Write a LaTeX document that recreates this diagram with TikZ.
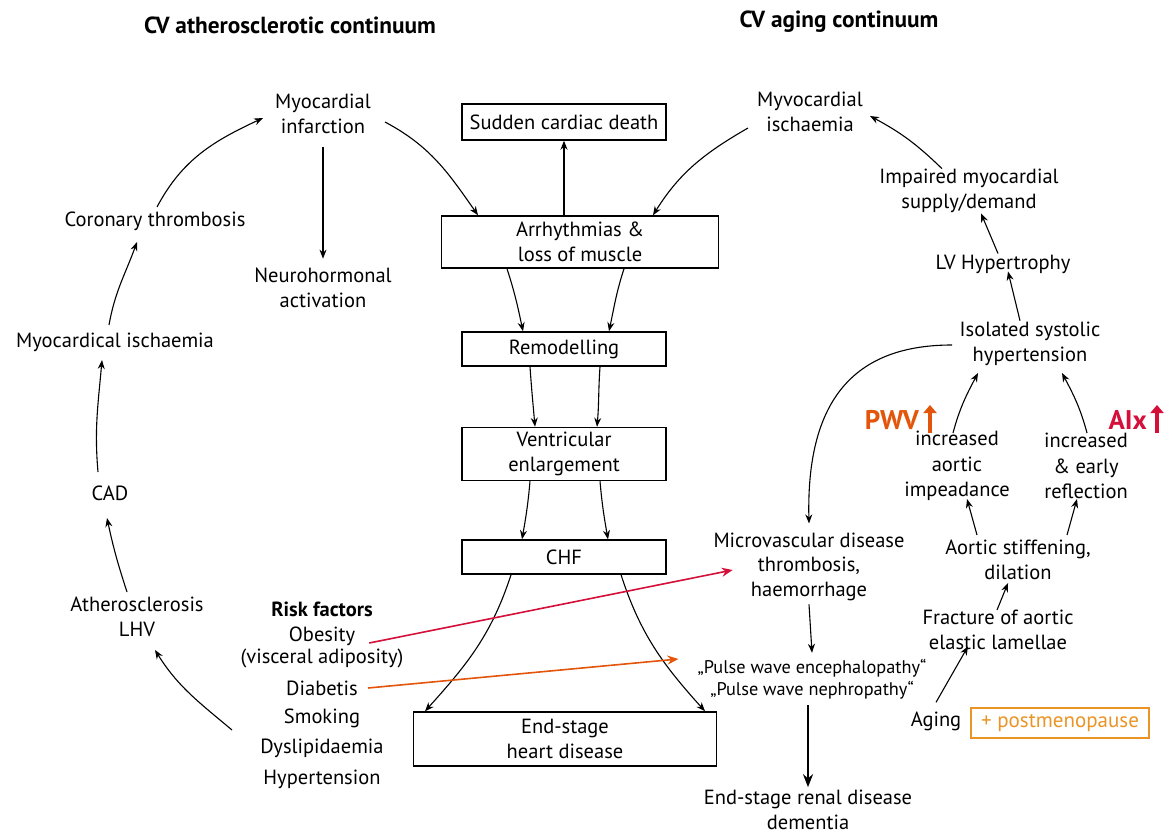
\documentclass[tikz,border=0pt]{standalone}
\usepackage{fontspec}
\setmainfont{PT Sans}
\usetikzlibrary{arrows.meta}
\definecolor{cred}{RGB}{212,16,58}
\definecolor{corange}{RGB}{226,85,10}
\definecolor{cpm}{RGB}{234,148,38}
\begin{document}
\begin{tikzpicture}[x=1pt,y=-1pt,
  txt/.style={align=center,inner sep=1pt,font=\fontsize{20.5}{25.5}\selectfont},
  boxn/.style={draw,line width=1.5pt,align=center,inner sep=0pt,font=\fontsize{20.5}{25}\selectfont},
  ttl/.style={font=\bfseries\fontsize{23.3}{25}\selectfont},
  arr/.style={-{Stealth[length=9pt,width=7pt]},line width=1.1pt},
  carr/.style={-{Stealth[length=11pt,width=9pt]},line width=1.6pt},
  bigup/.style={-{Triangle[length=8pt,width=13pt]},line width=4.5pt}]
\useasboundingbox (0,0) rectangle (1169,834);
% titles
\node[ttl] (t1) at (290,25) {CV atherosclerotic continuum};
\node[ttl] (t2) at (839,22) {CV aging continuum};
% left column
\node[txt] (mi) at (323,114) {Myocardial\\infarction};
\node[txt] (ct) at (155,221) {Coronary thrombosis};
\node[txt] (nh) at (323,288) {Neurohormonal\\activation};
\node[txt] (mis) at (115,342) {Myocardical ischaemia};
\node[txt] (cad) at (110,493) {CAD};
\node[txt] (ath) at (137,617) {Atherosclerosis\\LHV};
\node[txt,font=\bfseries\fontsize{20.5}{25.5}\selectfont] (rf) at (322,609) {Risk factors};
\node[txt] (ob1) at (322,636) {Obesity};
\node[txt] (ob2) at (322,658) {(visceral adiposity)};
\node[txt] (di) at (322,688) {Diabetis};
\node[txt] (sm) at (322,718) {Smoking};
\node[txt] (dy) at (322,748) {Dyslipidaemia};
\node[txt] (hy) at (322,779) {Hypertension};
% center boxes
\node[boxn,minimum width=204pt,minimum height=36pt] (scd) at (564,122) {Sudden cardiac death};
\node[boxn,minimum width=277pt,minimum height=52pt] (arr) at (580,242) {Arrhythmias \&\\loss of muscle};
\node[boxn,minimum width=204pt,minimum height=34pt] (rem) at (564,349) {Remodelling};
\node[boxn,minimum width=204pt,minimum height=53pt] (ve) at (564,454) {Ventricular\\enlargement};
\node[boxn,minimum width=204pt,minimum height=34pt] (chf) at (564,557) {CHF};
\node[boxn,minimum width=303pt,minimum height=54pt] (eshd) at (565,739) {End-stage\\heart disease};
% right
\node[txt] (myi) at (810,112) {Myvocardial\\ischaemia};
\node[txt] (imp) at (969,191) {Impaired myocardial\\supply/demand};
\node[txt] (lvh) at (1003,264) {LV Hypertrophy};
\node[txt] (ish) at (1030,344) {Isolated systolic\\hypertension};
\node[txt] (iai) at (957,466) {increased\\aortic\\impeadance};
\node[txt] (ier) at (1086,466) {increased\\\& early\\reflection};
\node[txt] (as) at (1018,560) {Aortic stiffening,\\dilation};
\node[txt] (fr) at (998,630) {Fracture of aortic\\elastic lamellae};
\node[txt] (mv1) at (809,540) {Microvascular disease};
\node[txt] (mv2) at (809,579) {thrombosis,\\haemorrhage};
\node[txt,font=\fontsize{18.3}{22}\selectfont] (pw) at (812,679) {„Pulse wave encephalopathy“\\„Pulse wave nephropathy“};
\node[txt] (ag) at (936,721) {Aging};
\node[draw=cpm,line width=1.3pt,text=cpm,font=\fontsize{21}{24}\selectfont,minimum width=178pt,minimum height=30pt,inner sep=0pt] (pm) at (1060,723) {+ postmenopause};
\node[txt,font=\fontsize{20.5}{24.5}\selectfont] (esrd) at (808,810) {End-stage renal disease\\dementia};
% PWV / AIx
\node[font=\bfseries\fontsize{27}{28}\selectfont,text=corange,anchor=east,inner sep=0pt] (pwv) at (919,420) {PWV};
\coordinate (pwa1) at (930,433);
\coordinate (pwa2) at (930,405);
\draw[bigup,corange] (pwa1) -- (pwa2);
\node[font=\bfseries\fontsize{27}{28}\selectfont,text=cred,anchor=east,inner sep=0pt] (aix) at (1147,420) {AIx};
\coordinate (aia1) at (1157,433);
\coordinate (aia2) at (1157,405);
\draw[bigup,cred] (aia1) -- (aia2);
% ---------- connectors: left cycle
\draw[arr] ([shift={(62,8)}]mi.center) to[out=-28,in=125] ([xshift=-102pt]arr.north);
\draw[arr] ([shift={(-62,16)}]myi.center) to[out=210,in=58] ([xshift=73pt]arr.north);
\draw[arr] (arr.north -| scd.south) -- (scd.south);
\draw[arr] ([yshift=-12pt]mi.south) -- ([yshift=8pt]nh.north);
\draw[arr] ([shift={(2,-14)}]ct.center) to[out=62,in=-155] ([shift={(-60,4)}]mi.center);
\draw[arr] ([shift={(-6,-17)}]mis.center) to[out=80,in=-110] ([shift={(-18,21)}]ct.center);
\draw[arr] ([shift={(-12,-21)}]cad.center) to[out=95,in=-95] ([shift={(-13,18)}]mis.center);
\draw[arr] ([shift={(-10,-25)}]ath.center) to[out=108,in=-78] ([shift={(-3,25)}]cad.center);
\draw[arr] ([shift={(-90,-18)}]dy.center) to[out=140,in=-58] ([shift={(18,33)}]ath.center);
% ---------- center column
\draw[arr] ([xshift=-73pt]arr.south) to[out=-72,in=102] ([xshift=-41pt]rem.north);
\draw[arr] ([xshift=44pt]arr.south) to[out=-108,in=78] ([xshift=45pt]rem.north);
\draw[arr] ([xshift=-34pt]rem.south) to[out=-86,in=95] ([xshift=-29pt]ve.north);
\draw[arr] ([xshift=36pt]rem.south) to[out=-94,in=85] ([xshift=33pt]ve.north);
\draw[arr] ([xshift=-34pt]ve.south) to[out=-95,in=80] ([xshift=-42pt]chf.north);
\draw[arr] ([xshift=36pt]ve.south) to[out=-85,in=100] ([xshift=44pt]chf.north);
\draw[arr] ([xshift=-53pt]chf.south) to[out=-108,in=48] ([xshift=-140pt]eshd.north);
\draw[arr] ([xshift=57pt]chf.south) to[out=-72,in=132] ([xshift=140pt]eshd.north);
% ---------- risk factor arrows
\draw[carr,cred] ([shift={(13,7)}]ob1.east) -- ([shift={(-17,-9)}]mv2.west);
\draw[carr,corange] ([xshift=9pt]di.east) -- ([shift={(-18,-20)}]pw.west);
% ---------- right column
\draw[arr] ([yshift=-2pt]mv2.south) -- ([yshift=5pt]pw.north);
\draw[-{Stealth[length=13pt,width=10pt]},line width=2.6pt] ([yshift=-5pt]pw.south -| esrd.north) -- ([yshift=2pt]esrd.north);
\draw[arr] ([yshift=8pt]ag.north) -- ([shift={(-30,-5)}]fr.south);
\draw[arr] ([shift={(-1,-20)}]fr.center) -- ([shift={(-10,23)}]as.center);
\draw[arr] ([shift={(-41,-25)}]as.center) -- ([shift={(10,33)}]iai.center);
\draw[arr] ([shift={(49,-25)}]as.center) -- ([shift={(-9,33)}]ier.center);
\draw[arr] ([shift={(-4,-33)}]iai.center) to[out=75,in=-118] ([shift={(-52,29)}]ish.center);
\draw[arr] ([shift={(1,-33)}]ier.center) to[out=105,in=-62] ([shift={(32,29)}]ish.center);
\draw[arr] ([shift={(-78,1)}]ish.center) .. controls +(-92,0) and +(-3,-130) .. ([yshift=8pt]mv1.north);
\draw[arr] ([xshift=-10pt]ish.north) -- ([shift={(5,-3)}]lvh.south);
\draw[arr] ([xshift=-5pt]lvh.north) -- ([shift={(12,-1)}]imp.south);
\draw[arr] ([shift={(-27,1)}]imp.north) to[bend right=8] ([shift={(6,4)}]myi.east);
\end{tikzpicture}
\end{document}
